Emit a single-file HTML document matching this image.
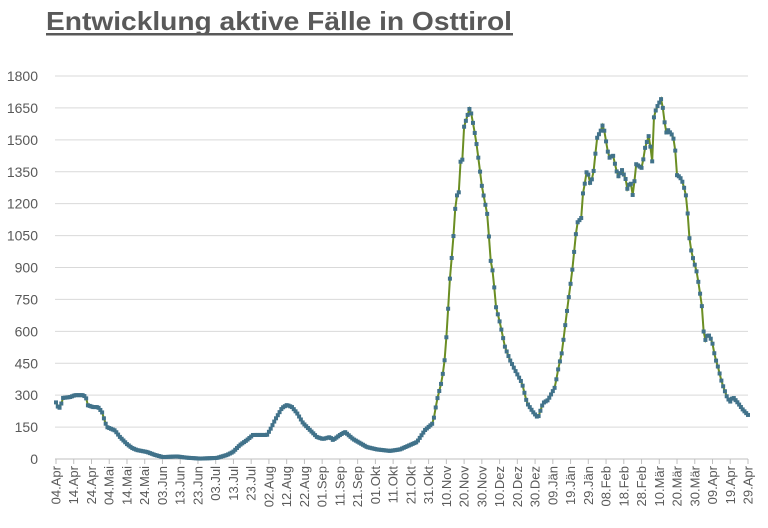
<!DOCTYPE html>
<html><head><meta charset="utf-8"><style>
html,body{margin:0;padding:0;background:#fff;}
svg{display:block;font-family:"Liberation Sans",sans-serif;}
</style></head><body>
<svg id="c" width="768" height="528" viewBox="0 0 768 528">
<text x="46" y="30" font-size="26" font-weight="bold" fill="#595959" textLength="466" lengthAdjust="spacingAndGlyphs">Entwicklung aktive Fälle in Osttirol</text>
<rect x="46" y="33" width="467" height="2.5" fill="#595959"/>
<g id="grid"></g><g id="data"></g>
</svg>
<script>
const s=document.getElementById('c'),NS='http://www.w3.org/2000/svg';
function el(t,a,p,txt){const e=document.createElementNS(NS,t);for(const k in a)e.setAttribute(k,a[k]);if(txt!==undefined)e.textContent=txt;(p||s).appendChild(e);return e;}
const g=document.getElementById('grid'),dg=document.getElementById('data');
const Y=v=>459-v*(383/1800);
for(let v=0;v<=1800;v+=150){
  el('line',{x1:55,x2:748,y1:Y(v),y2:Y(v),stroke:v?'#d9d9d9':'#bfbfbf','stroke-width':1},g);
  el('text',{x:38,y:Y(v)+5,'font-size':14,fill:'#595959','text-anchor':'end'},g,v);
}
const labs="04.Apr,14.Apr,24.Apr,04.Mai,14.Mai,24.Mai,03.Jun,13.Jun,23.Jun,03.Jul,13.Jul,23.Jul,02.Aug,12.Aug,22.Aug,01.Sep,11.Sep,21.Sep,01.Okt,11.Okt,21.Okt,31.Okt,10.Nov,20.Nov,30.Nov,10.Dez,20.Dez,30.Dez,09.Jän,19.Jän,29.Jän,08.Feb,18.Feb,28.Feb,10.Mär,20.Mär,30.Mär,09.Apr,19.Apr,29.Apr".split(',');
labs.forEach((l,i)=>{const x=56+i*692/39;
  el('line',{x1:x,x2:x,y1:459,y2:464,stroke:'#bfbfbf'},g);
  el('text',{x:0,y:0,'font-size':13,fill:'#595959','text-anchor':'end',transform:`translate(${x+4.5},466) rotate(-90)`},g,l);
});
const P=[[55,277],[58,244],[60,240],[63,287],[70,291],[75,300],[83,300],[86,291],[87,254],[93,244],[98,244],[102,221],[105,174],[107,150],[115,134],[120,103],[127,70],[132,52],[137,42],[147,33],[155,19],[163,9],[177,12],[187,6],[200,2],[217,5],[227,19],[233,33],[240,66],[247,89],[253,113],[267,113],[270,136],[275,183],[282,240],[287,254],[292,244],[297,216],[303,169],[310,136],[317,103],[323,94],[330,103],[333,89],[340,113],[345,127],[353,94],[360,75],[367,56],[377,45],[390,38],[400,45],[417,80],[425,136],[433,169],[437,277],[442,371],[445,479],[447,616],[450,855],[453,1015],[456,1231],[459,1255],[461,1438],[463,1391],[464,1560],[467,1607],[470,1654],[473,1579],[476,1499],[479,1391],[482,1278],[486,1180],[488,1132],[490,949],[493,874],[496,714],[500,639],[505,526],[510,465],[515,418],[522,357],[527,263],[533,221],[538,193],[543,263],[548,277],[555,338],[558,418],[562,503],[565,620],[568,733],[572,874],[575,1015],[577,1109],[582,1137],[583,1250],[586,1325],[587,1367],[590,1297],[593,1325],[597,1508],[602,1555],[603,1579],[607,1466],[609,1414],[613,1428],[615,1386],[618,1325],[622,1358],[626,1311],[628,1250],[630,1320],[633,1231],[636,1386],[642,1367],[645,1461],[649,1523],[653,1367],[654,1616],[657,1654],[662,1700],[663,1640],[666,1532],[668,1546],[673,1518],[675,1466],[677,1334],[680,1325],[683,1297],[687,1217],[688,1123],[690,1005],[693,944],[697,874],[700,780],[702,714],[703,620],[705,555],[708,588],[712,555],[715,479],[718,432],[722,357],[727,291],[730,268],[733,291],[738,263],[743,231],[748,207]];
function val(x){for(let i=0;i<P.length-1;i++){if(x<=P[i+1][0]){const[a,b]=P[i],[c,d]=P[i+1];return b+(d-b)*(x-a)/(c-a);}}return P[P.length-1][1];}
let pts=[];for(let d=0;d<=390;d++){const x=56+d*692/390;pts.push([x,Y(val(x))]);}
el('polyline',{points:pts.map(p=>p.join(',')).join(' '),fill:'none',stroke:'#6b8e23','stroke-width':2},dg);
pts.forEach(p=>el('rect',{x:p[0]-2,y:p[1]-2,width:4,height:4,fill:'#41728a'},dg));
</script>
</body></html>
